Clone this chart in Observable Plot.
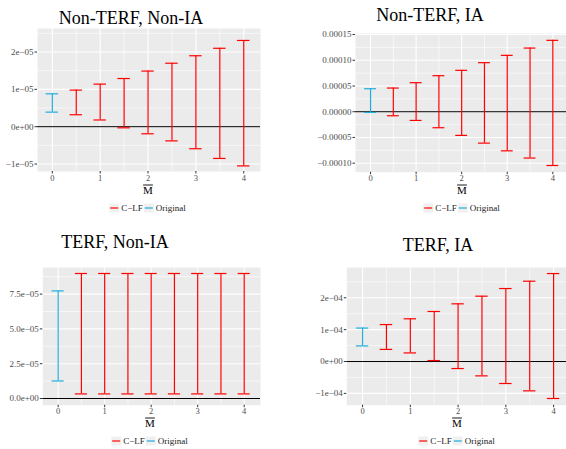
<!DOCTYPE html>
<html><head><meta charset="utf-8">
<script src="https://cdn.jsdelivr.net/npm/d3@7"></script>
<script src="https://cdn.jsdelivr.net/npm/@observablehq/plot@0.6"></script>
</head><body style="margin:0;background:#fff;width:566px;height:449px;overflow:hidden;position:relative;font-family:'Liberation Serif',serif;">
<script>
const FONT = "'Liberation Serif', 'Times New Roman', serif";
const seriesNames = ["C−LF", "Original"];
const seriesColors = ["#FF0000", "#1FAEDD"];
const xTicks = [0, 1, 2, 3, 4];
const xTickLabels = ["0", "1", "2", "3", "4"];
const xMinor = [0.5, 1.5, 2.5, 3.5];
const mOriginal = [0];
const mClf = [0.5, 1, 1.5, 2, 2.5, 3, 3.5, 4];

// Panel 1: Non-TERF, Non-IA
const p1Title = "Non-TERF, Non-IA";
const p1OrigLow = [3.9e-6], p1OrigHigh = [8.8e-6];
const p1ClfLow = [3.2e-6, 1.8e-6, -0.3e-6, -1.9e-6, -3.8e-6, -5.9e-6, -8.5e-6, -10.5e-6];
const p1ClfHigh = [9.8e-6, 11.4e-6, 12.9e-6, 14.9e-6, 17.0e-6, 19.0e-6, 21.0e-6, 23.1e-6];
const p1YTicks = [-1e-5, 0, 1e-5, 2e-5];
const p1YLabels = ["−1e−05", "0e+00", "1e−05", "2e−05"];
const p1YMinor = [-5e-6, 5e-6, 1.5e-5, 2.5e-5];

// Panel 2: Non-TERF, IA
const p2Title = "Non-TERF, IA";
const p2OrigLow = [-1.4e-6], p2OrigHigh = [4.47e-5];
const p2ClfLow = [-0.78e-5, -1.69e-5, -3.11e-5, -4.6e-5, -6.1e-5, -7.6e-5, -9.0e-5, -10.45e-5];
const p2ClfHigh = [4.6e-5, 5.64e-5, 7.0e-5, 8.04e-5, 9.53e-5, 10.95e-5, 12.37e-5, 13.87e-5];
const p2YTicks = [-1e-4, -5e-5, 0, 5e-5, 1e-4, 1.5e-4];
const p2YLabels = ["−0.00010", "−0.00005", "0.00000", "0.00005", "0.00010", "0.00015"];
const p2YMinor = [-7.5e-5, -2.5e-5, 2.5e-5, 7.5e-5, 1.25e-4];

// Panel 3: TERF, Non-IA
const p3Title = "TERF, Non-IA";
const p3OrigLow = [1.26e-5], p3OrigHigh = [7.73e-5];
const p3ClfLow = [0.33e-5, 0.33e-5, 0.33e-5, 0.33e-5, 0.33e-5, 0.33e-5, 0.33e-5, 0.33e-5];
const p3ClfHigh = [8.98e-5, 8.98e-5, 8.98e-5, 8.98e-5, 8.98e-5, 8.98e-5, 8.98e-5, 8.98e-5];
const p3YTicks = [0, 2.5e-5, 5e-5, 7.5e-5];
const p3YLabels = ["0.0e+00", "2.5e−05", "5.0e−05", "7.5e−05"];
const p3YMinor = [1.25e-5, 3.75e-5, 6.25e-5, 8.75e-5];

// Panel 4: TERF, IA
const p4Title = "TERF, IA";
const p4OrigLow = [0.49e-4], p4OrigHigh = [1.05e-4];
const p4ClfLow = [0.38e-4, 0.27e-4, 0.03e-4, -0.22e-4, -0.45e-4, -0.69e-4, -0.92e-4, -1.16e-4];
const p4ClfHigh = [1.16e-4, 1.34e-4, 1.57e-4, 1.81e-4, 2.05e-4, 2.29e-4, 2.52e-4, 2.76e-4];
const p4YTicks = [-1e-4, 0, 1e-4, 2e-4];
const p4YLabels = ["−1e−04", "0e+00", "1e−04", "2e−04"];
const p4YMinor = [-0.5e-4, 0.5e-4, 1.5e-4, 2.5e-4];

const CAP = 0.13;

const overlay = d3.create("svg")
  .attr("width", 566).attr("height", 449)
  .style("position", "absolute").style("left", "0px").style("top", "0px")
  .style("pointer-events", "none").style("z-index", "2")
  .style("font-family", FONT);

function addTitle(x, y, text) {
  overlay.append("text").attr("x", x).attr("y", y)
    .attr("text-anchor", "middle").attr("dominant-baseline", "central")
    .style("font-family", FONT).attr("font-size", 18).attr("fill", "#000").text(text);
}

function addXLabel(x, y) {
  const t = overlay.append("text").attr("x", x).attr("y", y)
    .attr("text-anchor", "middle").attr("dominant-baseline", "central")
    .style("font-family", FONT).attr("font-size", 11).attr("fill", "#000").text("M");
  const w = t.node().getComputedTextLength() || 9.8;
  overlay.append("line").attr("x1", x - w / 2).attr("x2", x + w / 2)
    .attr("y1", y - 5).attr("y2", y - 5).attr("stroke", "#000").attr("stroke-width", 0.9);
}

function addLegend(cx, cy) {
  const g = overlay.append("g");
  let xPos = 0;
  seriesNames.forEach((name, i) => {
    g.append("rect").attr("x", xPos).attr("y", 0).attr("width", 10).attr("height", 9).attr("fill", "#F0F0F0");
    g.append("line").attr("x1", xPos + 1).attr("x2", xPos + 9).attr("y1", 4.5).attr("y2", 4.5)
      .attr("stroke", seriesColors[i]).attr("stroke-width", 1.2);
    xPos += 12;
    const t = g.append("text").attr("x", xPos).attr("y", 4.5).attr("dominant-baseline", "central")
      .style("font-family", FONT).attr("font-size", 9).attr("fill", "#1a1a1a").text(name);
    const w = t.node().getComputedTextLength() || name.length * 4.5;
    xPos += w + 1;
  });
  g.attr("transform", `translate(${cx - xPos / 2},${cy - 4.5})`);
}

function panel(cfg) {
  const rows = [
    ...mOriginal.map((m, i) => ({m, lo: cfg.origLow[i], hi: cfg.origHigh[i], s: seriesNames[1]})),
    ...mClf.map((m, i) => ({m, lo: cfg.clfLow[i], hi: cfg.clfHigh[i], s: seriesNames[0]}))
  ];
  const mL = cfg.fl - cfg.px, mT = 4, mB = 12, mR = Math.max(0, cfg.px + 283 - cfg.fr);
  const labelMap = new Map(cfg.yTicks.map((t, i) => [t, cfg.yLabels[i]]));
  const svg = Plot.plot({
    width: cfg.fr - cfg.fl + mL + mR,
    height: cfg.fb - cfg.ft + mT + mB,
    marginLeft: mL, marginRight: mR, marginTop: mT, marginBottom: mB,
    x: {domain: cfg.xd, label: null},
    y: {domain: cfg.yd, label: null},
    color: {domain: seriesNames, range: seriesColors},
    style: {fontFamily: FONT, fontSize: "9px", color: "#4D4D4D", background: "transparent", overflow: "visible"},
    marks: [
      Plot.frame({fill: "#EBEBEB", stroke: "none"}),
      Plot.ruleY(cfg.yMinor, {stroke: "white", strokeWidth: 0.6}),
      Plot.ruleX(xMinor, {stroke: "white", strokeWidth: 0.6}),
      Plot.ruleY(cfg.yTicks, {stroke: "white", strokeWidth: 1.1}),
      Plot.ruleX(xTicks, {stroke: "white", strokeWidth: 1.1}),
      Plot.ruleY([0], {stroke: "black", strokeWidth: 1}),
      Plot.ruleX(rows, {x: "m", y1: "lo", y2: "hi", stroke: "s", strokeWidth: 1.2}),
      Plot.ruleY(rows, {y: "lo", x1: d => d.m - CAP, x2: d => d.m + CAP, stroke: "s", strokeWidth: 1.2}),
      Plot.ruleY(rows, {y: "hi", x1: d => d.m - CAP, x2: d => d.m + CAP, stroke: "s", strokeWidth: 1.2}),
      Plot.axisY(cfg.yTicks, {tickFormat: d => labelMap.get(d), tickSize: 2.5, tickPadding: 1.5, label: null, fontSize: 9, fontFamily: FONT, stroke: "#333"}),
      Plot.axisX(xTicks, {tickFormat: (d, i) => xTickLabels[i], tickSize: 2.5, tickPadding: 0.5, label: null, fontSize: 8.5, fontFamily: FONT, stroke: "#333"})
    ]
  });
  svg.style.position = "absolute";
  svg.style.left = cfg.px + "px";
  svg.style.top = (cfg.ft - mT) + "px";
  document.body.appendChild(svg);
}

const configs = [
  {title: p1Title, px: 0, fl: 37, fr: 260, ft: 28, fb: 171, xd: [-0.31, 4.35], yd: [-1.2e-5, 2.63e-5],
    origLow: p1OrigLow, origHigh: p1OrigHigh, clfLow: p1ClfLow, clfHigh: p1ClfHigh,
    yTicks: p1YTicks, yLabels: p1YLabels, yMinor: p1YMinor, tx: 131, ty: 18, lx: 148, ly: 190, gy: 208},
  {title: p2Title, px: 283, fl: 355, fr: 566, ft: 33, fb: 171.7, xd: [-0.33, 4.30], yd: [-11.75e-5, 15.2e-5],
    origLow: p2OrigLow, origHigh: p2OrigHigh, clfLow: p2ClfLow, clfHigh: p2ClfHigh,
    yTicks: p2YTicks, yLabels: p2YLabels, yMinor: p2YMinor, tx: 430, ty: 15, lx: 462, ly: 190, gy: 208},
  {title: p3Title, px: 0, fl: 42.3, fr: 260, ft: 267.3, fb: 405, xd: [-0.33, 4.35], yd: [-0.48e-5, 9.41e-5],
    origLow: p3OrigLow, origHigh: p3OrigHigh, clfLow: p3ClfLow, clfHigh: p3ClfHigh,
    yTicks: p3YTicks, yLabels: p3YLabels, yMinor: p3YMinor, tx: 115, ty: 242, lx: 150, ly: 423, gy: 441},
  {title: p4Title, px: 283, fl: 346.3, fr: 566, ft: 267.3, fb: 405, xd: [-0.33, 4.27], yd: [-1.37e-4, 2.95e-4],
    origLow: p4OrigLow, origHigh: p4OrigHigh, clfLow: p4ClfLow, clfHigh: p4ClfHigh,
    yTicks: p4YTicks, yLabels: p4YLabels, yMinor: p4YMinor, tx: 438, ty: 245, lx: 457, ly: 423, gy: 441}
];

configs.forEach(panel);
document.body.appendChild(overlay.node());
configs.forEach(cfg => { addTitle(cfg.tx, cfg.ty, cfg.title); addXLabel(cfg.lx, cfg.ly); addLegend(cfg.lx, cfg.gy); });
</script>
</body></html>
